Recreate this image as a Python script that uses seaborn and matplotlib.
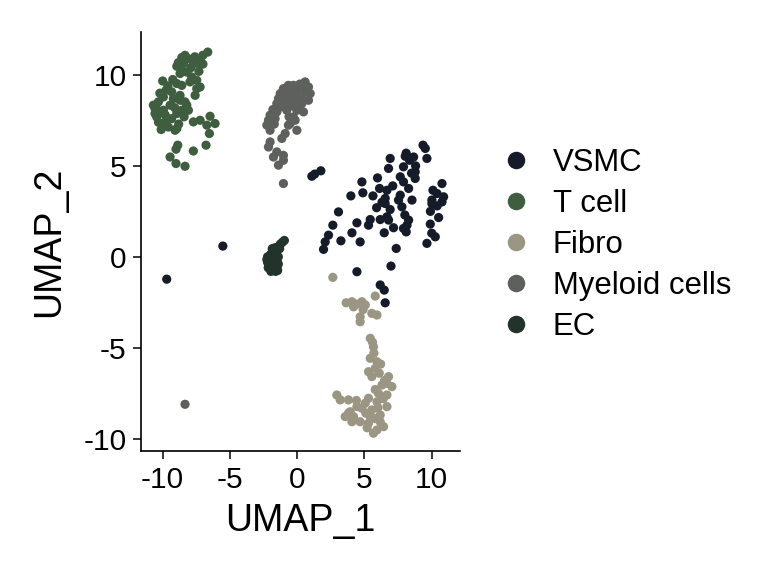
import matplotlib
matplotlib.use('Agg')
import matplotlib.pyplot as plt
import seaborn as sns
import pandas as pd

# UMAP embedding (one (x, y) per cell)
vsmc_pts = [
    (9.35, 6.14), (9.52, 5.96), (8.03, 5.53), (8.65, 5.49), (8.35, 5.31), (9.64, 5.41),
    (6.91, 5.41), (6.79, 4.86), (7.90, 4.95), (8.77, 4.67), (7.66, 4.40), (8.77, 4.31),
    (10.76, 4.03), (7.90, 4.12), (8.28, 3.76), (10.09, 3.66), (1.76, 4.73), (1.09, 4.43),
    (1.30, 4.55), (4.81, 4.12), (5.97, 4.34), (6.12, 3.76), (6.67, 3.66), (4.88, 3.52),
    (3.99, 3.35), (5.63, 3.35), (6.54, 3.21), (7.66, 3.39), (7.53, 3.12), (10.39, 3.48),
    (10.88, 3.30), (10.01, 3.12), (10.76, 3.02), (10.01, 2.93), (8.53, 3.12), (6.54, 2.93),
    (7.78, 2.75), (6.91, 2.60), (3.07, 2.47), (6.67, 2.20), (6.17, 2.05), (6.79, 2.02),
    (5.43, 2.05), (5.30, 1.74), (4.44, 1.87), (2.65, 1.74), (8.28, 2.02), (8.16, 1.74),
    (7.90, 1.56), (10.51, 2.16), (9.89, 1.80), (7.16, 1.60), (6.47, 1.32), (8.10, 1.37),
    (4.07, 1.32), (2.33, 1.19), (3.25, 0.88), (2.08, 0.82), (4.68, 0.82), (10.26, 1.10),
    (9.64, 0.74), (1.96, 0.41), (7.36, 0.46), (6.97, -0.51), (4.44, -0.82), (6.17, -1.55),
    (6.47, -1.83), (6.54, -2.53), (-5.52, 0.59), (-9.69, -1.23), (8.10, 5.70), (8.80, 5.00),
    (9.90, 2.50), (10.40, 2.80), (10.00, 1.30), (6.30, 3.00), (5.90, 2.70), (8.50, 4.60),
    (7.10, 3.90), (8.00, 2.30),
]
tcell_pts = [
    (-6.64, 11.26), (-7.01, 11.08), (-7.21, 10.85), (-7.34, 10.63), (-7.71, 10.63),
    (-8.33, 11.08), (-8.57, 10.96), (-8.83, 10.68), (-8.45, 10.63), (-8.94, 10.48),
    (-8.20, 10.16), (-8.70, 10.08), (-7.83, 9.89), (-7.96, 9.62), (-7.46, 9.71),
    (-7.46, 9.25), (-7.58, 8.88), (-7.21, 9.34), (-9.99, 9.67), (-9.24, 9.75),
    (-8.94, 9.53), (-8.57, 9.43), (-9.74, 9.16), (-9.32, 9.07), (-8.70, 8.88),
    (-9.94, 8.79), (-10.31, 8.52), (-10.56, 8.15), (-10.43, 7.69), (-9.94, 8.06),
    (-8.20, 8.34), (-8.08, 8.06), (-8.57, 8.06), (-8.94, 7.88), (-9.32, 7.60),
    (-9.70, 7.51), (-10.06, 7.33), (-9.57, 7.14), (-8.94, 7.05), (-9.07, 6.96),
    (-7.71, 7.42), (-7.21, 7.51), (-6.47, 7.73), (-6.71, 7.24), (-6.10, 7.33),
    (-6.52, 6.78), (-8.87, 6.14), (-9.00, 5.92), (-6.77, 6.14), (-7.71, 5.82),
    (-9.44, 5.49), (-9.00, 5.13), (-8.33, 4.98), (-10.68, 8.34), (-10.56, 7.88),
    (-10.19, 7.97), (-9.20, 8.70), (-8.70, 8.61), (-8.33, 8.52), (-9.44, 8.34),
    (-8.10, 10.90), (-7.90, 10.40), (-8.60, 10.30), (-9.60, 9.40), (-10.20, 9.00),
    (-10.50, 8.30), (-10.30, 7.40), (-9.80, 7.80), (-9.10, 8.20), (-8.40, 7.70),
    (-8.80, 7.30), (-10.10, 7.00), (-7.30, 10.20), (-7.00, 10.60), (-7.60, 11.00),
]
fibro_pts = [
    (2.65, -1.13), (5.80, -2.16), (3.64, -2.53), (4.07, -2.47), (4.19, -2.75), (4.81, -2.47),
    (5.06, -2.65), (4.68, -3.30), (4.68, -3.57), (5.55, -3.11), (5.93, -3.20), (5.43, -4.48),
    (5.67, -4.95), (5.43, -5.58), (5.93, -5.77), (5.80, -6.13), (5.30, -6.32), (5.55, -6.59),
    (6.79, -6.59), (6.67, -6.96), (7.04, -7.14), (6.30, -7.05), (6.04, -7.51), (6.67, -7.60),
    (2.95, -7.60), (3.20, -7.87), (3.81, -7.87), (5.30, -7.78), (5.93, -7.97), (5.06, -8.05),
    (6.67, -8.24), (4.44, -8.24), (4.81, -8.33), (5.55, -8.42), (3.94, -8.52), (3.57, -8.79),
    (4.19, -8.79), (5.43, -8.79), (6.17, -8.70), (4.68, -9.07), (5.30, -9.15), (6.17, -9.07),
    (6.42, -9.34), (5.93, -9.52), (5.67, -9.70), (3.81, -8.60), (4.07, -9.07), (4.40, -2.60),
    (5.70, -5.30), (6.10, -6.40), (6.50, -6.80), (5.80, -7.30), (6.40, -7.80), (5.10, -8.60),
    (5.80, -8.90), (4.40, -7.90), (6.20, -5.90), (5.60, -4.70), (4.90, -2.90), (5.20, -9.40),
    (6.00, -8.30),
]
myeloid_pts = [
    (0.59, 9.62), (0.84, 9.34), (0.35, 9.43), (0.10, 9.16), (-0.28, 9.43), (-0.65, 9.43),
    (-1.02, 9.25), (-1.26, 8.98), (-1.39, 8.70), (-0.89, 8.88), (-0.39, 8.98), (-0.02, 8.79),
    (0.35, 8.70), (0.84, 8.61), (0.97, 8.98), (-0.39, 8.61), (-0.77, 8.43), (-1.26, 8.24),
    (-1.51, 8.43), (0.35, 8.43), (-0.02, 8.06), (0.47, 7.97), (-0.77, 8.06), (-1.51, 7.97),
    (-2.01, 7.79), (-2.13, 7.51), (-1.64, 7.60), (-0.28, 7.69), (-0.15, 7.51), (-0.52, 7.33),
    (-0.65, 7.24), (-0.02, 6.96), (-2.25, 7.24), (-2.01, 6.96), (-0.89, 6.78), (-1.14, 6.51),
    (-2.01, 6.32), (-2.13, 6.04), (-1.51, 5.77), (-1.76, 5.49), (-1.02, 5.58), (-1.02, 5.31),
    (-1.39, 5.04), (-1.02, 4.03), (0.20, 9.50), (-0.10, 9.20), (-0.50, 9.10), (0.60, 9.10),
    (-1.10, 8.60), (0.10, 8.40), (-0.40, 8.30), (-1.80, 8.10), (-1.70, 7.30), (-0.60, 7.70),
    (-8.33, -8.11),
]
ec_pts = [
    (-2.20, -0.30), (-2.10, -0.10), (-2.10, -0.50), (-2.00, 0.10), (-2.00, -0.30), (-1.90, -0.60),
    (-1.90, 0.20), (-1.90, -0.10), (-1.80, -0.40), (-1.80, 0.30), (-1.70, 0.00), (-1.70, -0.70),
    (-1.70, -0.30), (-1.60, 0.20), (-1.60, -0.50), (-1.50, -0.20), (-1.50, -0.60), (-1.40, 0.00),
    (-1.40, -0.40), (-2.20, 0.00), (-1.80, -0.75), (-1.55, 0.40), (-1.40, 0.55), (-1.25, 0.70),
    (-1.10, 0.80), (-0.95, 0.90), (-1.30, 0.45), (-2.15, -0.60), (-1.95, -0.80), (-1.60, -0.80),
    (-1.45, -0.75), (-2.25, -0.15), (-1.85, 0.45), (-1.65, 0.50),
]

cell_types = ['VSMC', 'T cell', 'Fibro', 'Myeloid cells', 'EC']
type_colors = ['#151b29', '#3f5d3f', '#9b9683', '#5e605d', '#22332b']

rows = []
for nome, pts in zip(cell_types, [vsmc_pts, tcell_pts, fibro_pts, myeloid_pts, ec_pts]):
    for x, y in pts:
        rows.append({'UMAP_1': x, 'UMAP_2': y, 'ident': nome})
df = pd.DataFrame(rows)

sns.set_style('ticks')
plt.rcParams['font.family'] = ['Liberation Sans', 'DejaVu Sans']
plt.rcParams['axes.unicode_minus'] = False
plt.rcParams['text.color'] = 'black'
plt.rcParams['axes.labelcolor'] = 'black'

fig = plt.figure(figsize=(7.68, 5.76), dpi=100)
ax = fig.add_axes([0.1836, 0.217, 0.4154, 0.727])

sns.scatterplot(data=df, x='UMAP_1', y='UMAP_2', hue='ident', hue_order=cell_types,
                palette=dict(zip(cell_types, type_colors)), s=44, linewidth=0, ax=ax)

ax.set_xlim(-11.6, 12.1)
ax.set_ylim(-10.68, 12.35)
ax.set_xticks([-10, -5, 0, 5, 10])
ax.set_yticks([-10, -5, 0, 5, 10])
ax.set_xlabel('UMAP_1', fontsize=27, labelpad=7)
ax.set_ylabel('UMAP_2', fontsize=27, labelpad=12)
ax.tick_params(labelsize=21.5, length=5.5, width=1.1, color='black', pad=5, labelcolor='black')
for lado in ['top', 'right']:
    ax.spines[lado].set_visible(False)
for lado in ['left', 'bottom']:
    ax.spines[lado].set_linewidth(1.2)
    ax.spines[lado].set_color('black')

# Legenda à direita, sem moldura
handles, labels = ax.get_legend_handles_labels()
ax.legend(handles, labels, loc='center left', bbox_to_anchor=(0.651, 0.575),
          bbox_transform=fig.transFigure, frameon=False, fontsize=22.4,
          markerscale=1.9, handlelength=1.0, handletextpad=0.7,
          labelspacing=0.35, borderpad=0, borderaxespad=0)

plt.savefig('out.png', dpi=100)
